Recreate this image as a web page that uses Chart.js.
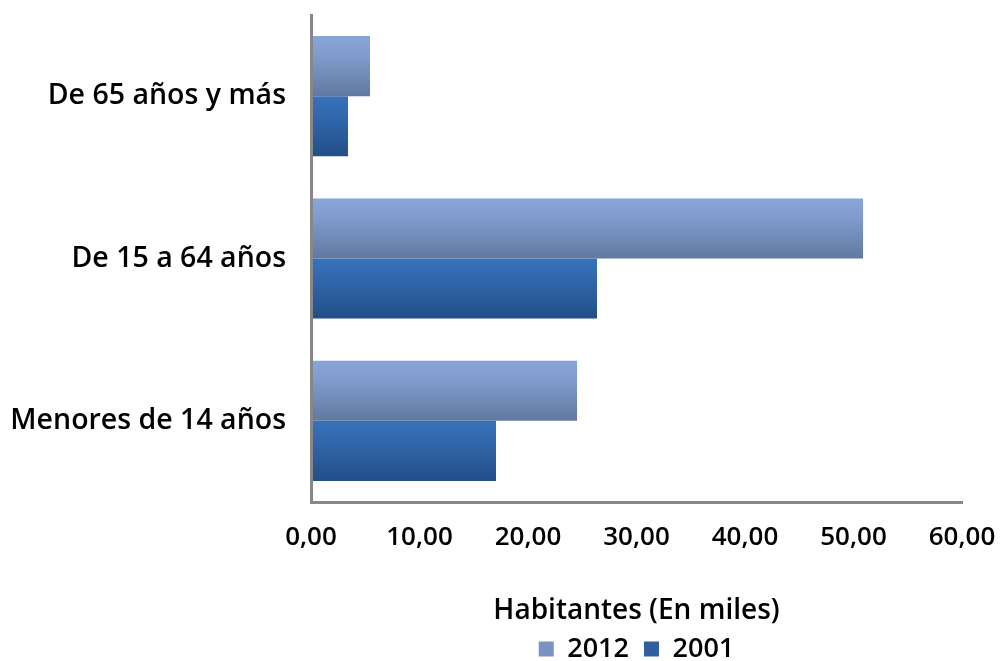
<!DOCTYPE html>
<html>
<head>
<meta charset="utf-8">
<script src="https://cdn.jsdelivr.net/npm/chart.js@4/dist/chart.umd.min.js"></script>
<style>
  html, body { margin: 0; padding: 0; background: #ffffff; }
  #wrap { width: 1002px; height: 661px; }
</style>
</head>
<body>
<div id="wrap"><canvas id="chart" width="1002" height="661"></canvas></div>
<script>
// Población por grupos de edad (miles de habitantes)
const categories = ['De 65 años y más', 'De 15 a 64 años', 'Menores de 14 años'];
const seriesNames = ['2012', '2001'];
const values2012 = [5.44, 50.88, 24.52];
const values2001 = [3.41, 26.36, 17.05];
const xTickValues = [0, 10, 20, 30, 40, 50, 60];
const xAxisTitle = 'Habitantes (En miles)';

// Vertical shading of each bar, light at the top and darker at the bottom
const shades = {
  '2012': { solid: '#7a93c3', stops: [[0, '#88a5d7'], [0.3, '#819dce'], [1, '#6179a0']] },
  '2001': { solid: '#2e5f9f', stops: [[0, '#3672bb'], [0.3, '#3169af'], [1, '#234e87']] }
};

const FONT = "'Open Sans', 'DejaVu Sans', sans-serif";
const WEIGHT = 600;
const AXIS_GREY = '#878787';

// Replaces each bar's flat colour by a gradient spanning the bar's own height
const barGradient = {
  id: 'barGradient',
  beforeDatasetsDraw(chart) {
    const ctx = chart.ctx;
    chart.data.datasets.forEach((ds, i) => {
      const meta = chart.getDatasetMeta(i);
      const stops = shades[ds.label].stops;
      meta.data.forEach(bar => {
        const top = bar.y - bar.height / 2;
        const bottom = bar.y + bar.height / 2;
        const g = ctx.createLinearGradient(0, top, 0, bottom);
        stops.forEach(([p, c]) => g.addColorStop(p, c));
        bar.options = Object.assign({}, bar.options, { backgroundColor: g });
      });
    });
  }
};

const ctx = document.getElementById('chart').getContext('2d');
new Chart(ctx, {
  type: 'bar',
  data: {
    labels: categories,
    datasets: [
      { label: seriesNames[0], data: values2012, backgroundColor: shades['2012'].solid },
      { label: seriesNames[1], data: values2001, backgroundColor: shades['2001'].solid }
    ]
  },
  options: {
    indexAxis: 'y',
    responsive: false,
    animation: false,
    devicePixelRatio: 1,
    layout: { padding: { top: 15, right: 40, bottom: -11.5, left: 0 } },
    datasets: {
      bar: { categoryPercentage: 0.74, barPercentage: 1.0, borderWidth: 0 }
    },
    scales: {
      x: {
        min: xTickValues[0],
        max: xTickValues[xTickValues.length - 1],
        afterBuildTicks(scale) { scale.ticks = xTickValues.map(v => ({ value: v })); },
        grid: { display: false, drawTicks: false },
        border: { display: true, color: AXIS_GREY, width: 3, z: 1 },
        ticks: {
          color: '#000000',
          padding: 20,
          maxRotation: 0,
          font: { family: FONT, size: 26, weight: WEIGHT },
          callback: v => Number(v).toFixed(2).replace('.', ',')
        },
        title: {
          display: true,
          text: xAxisTitle,
          color: '#000000',
          font: { family: FONT, size: 28, weight: WEIGHT },
          padding: { top: 0, bottom: -7.7 }
        },
        afterFit(scale) {
          scale.height = 118.5;
          scale.paddingLeft = 0;
          scale.paddingRight = 0;
        }
      },
      y: {
        grid: { display: false, drawTicks: false },
        border: { display: true, color: AXIS_GREY, width: 3, z: 1 },
        ticks: {
          color: '#000000',
          padding: 25,
          font: { family: FONT, size: 28.5, weight: WEIGHT }
        },
        afterFit(scale) {
          scale.width = 311;
          scale.paddingTop = 0;
          scale.paddingBottom = 0;
        }
      }
    },
    plugins: {
      legend: {
        display: true,
        position: 'bottom',
        fullSize: false,
        labels: {
          color: '#000000',
          boxWidth: 15,
          boxHeight: 15,
          padding: 15,
          font: { family: FONT, size: 27, weight: WEIGHT }
        }
      },
      tooltip: { enabled: false }
    }
  },
  plugins: [barGradient]
});
</script>
</body>
</html>
